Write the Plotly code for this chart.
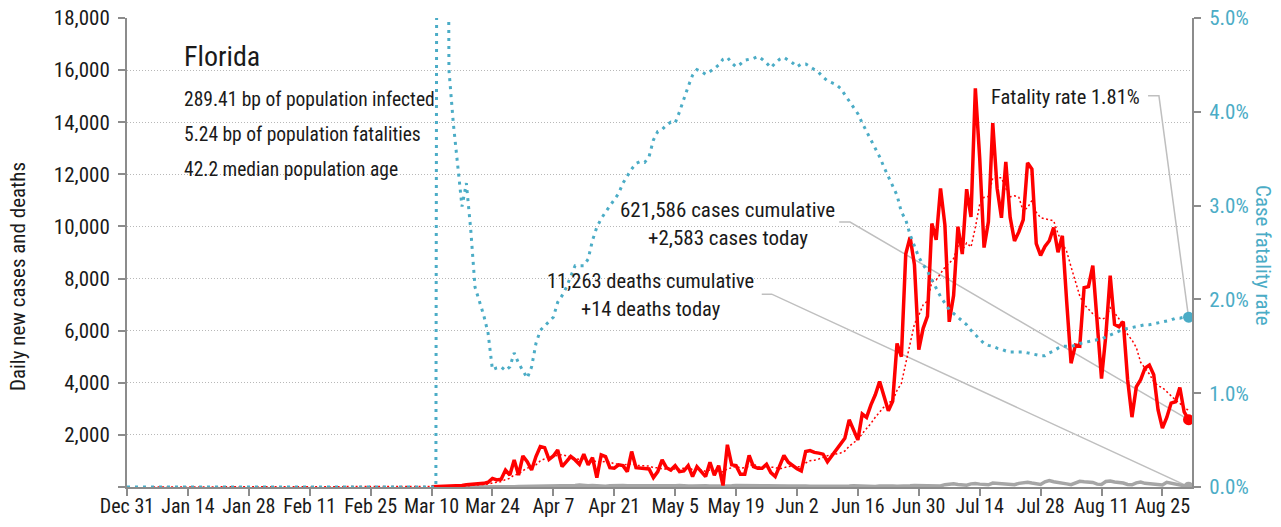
import subprocess
import pandas as pd
import plotly.graph_objects as go

# ---------------- data ----------------
dates = pd.date_range("2019-12-31", "2020-08-31", freq="D")  # 245 days

# daily new cases; nothing drawn before Mar 10 (day index 70)
cases_pre = [None] * 70
cases_mar = [7, 10, 15, 20, 25, 40, 45, 60, 90,            # Mar 10 - Mar 18
             100, 100, 130, 140, 180, 330, 270, 300, 650, 460, 1040, 460, 1190]  # Mar 19 - Mar 31
cases_apr = [970, 650, 1170, 1550, 1510, 1060, 1190, 1420, 780, 970,
             1170, 1040, 870, 1260, 850, 1130, 360, 1230, 1170, 740,
             720, 850, 820, 590, 1360, 740, 720, 720, 690, 360]
cases_may = [590, 1040, 740, 650, 820, 590, 620, 820, 400, 780,
             590, 400, 950, 450, 820, 60, 1620, 850, 820, 490,
             490, 1210, 780, 720, 720, 870, 550, 400, 800, 1210, 950]
cases_jun = [810, 700, 620, 1360, 1400, 1330, 1300, 1260, 970, 1200,
             1420, 1650, 1870, 2580, 2200, 1810, 2800, 2670, 3150, 3540,
             4050, 3500, 2930, 3290, 5510, 5000, 8940, 9590, 8530, 5270]
cases_jul = [6090, 6560, 10110, 9490, 11460, 10060, 6340, 7350, 9990, 8940,
             11430, 10360, 15300, 12620, 9190, 10180, 13970, 11470, 10330, 12480,
             10350, 9440, 9790, 10250, 12440, 12200, 9340, 8890, 9230, 9450, 9960]
cases_aug = [9010, 9640, 7100, 4750, 5450, 5410, 7650, 7690, 8500, 6230,
             4160, 5830, 8110, 6240, 6150, 6350, 4120, 2680, 3840, 4120,
             4560, 4680, 4310, 2960, 2260, 2670, 3220, 3270, 3820, 2880, 2583]
cases = cases_pre + cases_mar + cases_apr + cases_may + cases_jun + cases_jul + cases_aug

# daily deaths; nothing drawn before Mar 11 (day index 71)
deaths_pre = [None] * 71
deaths_mar = [1, 0, 1, 1, 0, 2, 1, 3, 2, 4, 5, 3, 6, 8, 6, 10, 11, 14, 12, 17, 20]
deaths_apr = [25, 30, 28, 40, 22, 35, 48, 52, 40, 38, 30, 58, 72, 50, 45,
              60, 48, 35, 30, 50, 62, 44, 58, 48, 40, 36, 28, 45, 50, 60]
deaths_may = [52, 45, 38, 30, 48, 55, 60, 40, 35, 28, 50, 45, 42, 38, 30, 25,
              20, 46, 55, 48, 40, 36, 28, 22, 45, 48, 40, 36, 30, 25, 40]
deaths_jun = [38, 45, 42, 35, 30, 28, 48, 40, 38, 35, 30, 25, 22, 40, 45,
              38, 44, 30, 25, 20, 42, 48, 46, 43, 30, 25, 20, 45, 55, 50]
deaths_jul = [60, 70, 55, 45, 40, 90, 110, 120, 95, 80, 70, 120, 135, 110, 90, 85,
              150, 140, 130, 125, 100, 90, 140, 170, 180, 150, 120, 100, 200, 250, 200]
deaths_aug = [180, 170, 120, 90, 160, 220, 200, 190, 175, 110, 100, 210, 230, 190, 180, 150,
              95, 85, 160, 190, 140, 120, 105, 80, 75, 180, 150, 120, 100, 40, 14]
deaths = deaths_pre + deaths_mar + deaths_apr + deaths_may + deaths_jun + deaths_jul + deaths_aug

# case fatality rate (%), right axis
cfr_pre = [0.0] * 72                                  # Dec 31 - Mar 11
cfr_mar = [30.0, 30.0, 4.45, 3.88, 3.45, 2.99, 3.24, 2.75, 2.13, 1.99,
           1.83, 1.64, 1.25, 1.27, 1.28, 1.24, 1.28, 1.43, 1.32, 1.24]   # Mar 12 - Mar 31
cfr_apr = [1.16, 1.28, 1.53, 1.67, 1.72, 1.76, 1.81, 1.97, 2.04, 2.13,
           2.24, 2.36, 2.36, 2.36, 2.43, 2.63, 2.77, 2.86, 2.93, 3.00,
           3.06, 3.13, 3.24, 3.32, 3.39, 3.45, 3.47, 3.46, 3.52, 3.70]
cfr_may = [3.79, 3.81, 3.86, 3.89, 3.88, 4.00, 4.14, 4.27, 4.39, 4.45,
           4.43, 4.40, 4.43, 4.46, 4.50, 4.56, 4.58, 4.52, 4.48, 4.51,
           4.55, 4.56, 4.57, 4.59, 4.56, 4.52, 4.47, 4.52, 4.56, 4.58, 4.55]
cfr_jun = [4.52, 4.48, 4.51, 4.51, 4.48, 4.45, 4.42, 4.37, 4.33, 4.31,
           4.29, 4.25, 4.18, 4.11, 4.05, 3.98, 3.88, 3.79, 3.70, 3.61,
           3.52, 3.41, 3.31, 3.22, 3.11, 2.93, 2.85, 2.69, 2.56, 2.45]
cfr_jul = [2.37, 2.30, 2.21, 2.12, 2.03, 1.96, 1.89, 1.85, 1.81, 1.77,
           1.73, 1.67, 1.62, 1.57, 1.53, 1.51, 1.50, 1.48, 1.47, 1.45,
           1.44, 1.44, 1.44, 1.44, 1.43, 1.42, 1.41, 1.40, 1.40, 1.43, 1.45]
cfr_aug = [1.48, 1.50, 1.50, 1.50, 1.51, 1.53, 1.54, 1.55, 1.56, 1.57,
           1.58, 1.60, 1.62, 1.64, 1.66, 1.68, 1.69, 1.70, 1.71, 1.72,
           1.73, 1.73, 1.74, 1.75, 1.76, 1.77, 1.78, 1.80, 1.80, 1.81, 1.81]
cfr = [v / 100 for v in cfr_pre + cfr_mar + cfr_apr + cfr_may + cfr_jun + cfr_jul + cfr_aug]

# left-axis ticks (the reference shows no label at zero)
y_tickvals = [0, 2000, 4000, 6000, 8000, 10000, 12000, 14000, 16000, 18000]
y_ticktext = ["", "2,000", "4,000", "6,000", "8,000", "10,000", "12,000", "14,000", "16,000", "18,000"]

state_name = "Florida"
info_lines = ["289.41 bp of population infected",
              "5.24 bp of population fatalities",
              "42.2 median population age"]
cases_text = ["621,586 cases cumulative", "+2,583 cases today"]
deaths_text = ["11,263 deaths cumulative", "+14 deaths today"]
fatality_text = "Fatality rate 1.81%"

# 7-day trailing average of daily cases
cases_avg = pd.Series(cases, dtype="float").fillna(0).rolling(7).mean()

# ---------------- font choice (first condensed family that is installed) ----------------
try:
    fc = subprocess.run(["fc-list", ":", "family"], capture_output=True, text=True).stdout
    installed = set()
    for line in fc.splitlines():
        for name in line.split(","):
            installed.add(name.strip())
except Exception:
    installed = set()
prefs = ["Roboto Condensed", "Archivo Narrow", "PT Sans Narrow", "Liberation Sans Narrow",
         "Fira Sans Condensed", "IBM Plex Sans Condensed", "Open Sans Condensed"]
chosen = next((p for p in prefs if p in installed), "Roboto")
FONT = f"{chosen}, Roboto, sans-serif"

RED = "#ff0000"
BLUE = "#4bacc6"
GRAY = "#a6a6a6"
LEAD = "#bfbfbf"
AXIS = "#8c8c8c"
TXT = "#1a1a1a"

start = pd.Timestamp("2019-12-31")
def day(d):
    return start + pd.Timedelta(days=d)

fig = go.Figure()

# leader lines (stub + diagonal to the last point of each series)
fig.add_trace(go.Scatter(x=[day(163.7), day(166.2), dates[-1]], y=[10170, 10170, cases[-1]],
                         mode="lines", line=dict(color=LEAD, width=1.5), hoverinfo="skip", showlegend=False))
fig.add_trace(go.Scatter(x=[day(145.9), day(148.2), dates[-1]], y=[7400, 7400, deaths[-1]],
                         mode="lines", line=dict(color=LEAD, width=1.5), hoverinfo="skip", showlegend=False))
fig.add_trace(go.Scatter(x=[day(234.7), day(237.2), dates[-1]], y=[0.0417, 0.0417, cfr[-1]],
                         yaxis="y2", mode="lines", line=dict(color=LEAD, width=1.5),
                         hoverinfo="skip", showlegend=False))

# deaths
fig.add_trace(go.Scatter(x=dates, y=deaths, mode="lines", line=dict(color=GRAY, width=3.5),
                         showlegend=False))
fig.add_trace(go.Scatter(x=[dates[-1]], y=[deaths[-1]], mode="markers",
                         marker=dict(color=GRAY, size=10), showlegend=False))
# cases
fig.add_trace(go.Scatter(x=dates, y=cases, mode="lines", line=dict(color=RED, width=3.5),
                         showlegend=False))
fig.add_trace(go.Scatter(x=dates, y=cases_avg, mode="lines",
                         line=dict(color=RED, width=1.5, dash="2px,2.5px"), showlegend=False))
fig.add_trace(go.Scatter(x=[dates[-1]], y=[cases[-1]], mode="markers",
                         marker=dict(color=RED, size=11), showlegend=False))
# case fatality rate
fig.add_trace(go.Scatter(x=dates, y=cfr, yaxis="y2", mode="lines",
                         line=dict(color=BLUE, width=3, dash="3px,5px"), showlegend=False))
fig.add_trace(go.Scatter(x=[dates[-1]], y=[cfr[-1]], yaxis="y2", mode="markers",
                         marker=dict(color=BLUE, size=11), showlegend=False))

W, H = 1281, 527
L, R, T, B = 127, 89, 18, 40
pw, ph = W - L - R, H - T - B
def px(x):
    return (x - L) / pw
def py(y):
    return (H - B - y) / ph

ann = []
def add_text(text, x, y, size=21, xanchor="left", color=TXT, angle=0):
    ann.append(dict(text=text, x=px(x), y=py(y), xref="paper", yref="paper",
                    xanchor=xanchor, yanchor="middle", showarrow=False, textangle=angle,
                    font=dict(family=FONT, size=size, color=color)))

add_text(state_name, 182, 57, size=28)
for i, t in enumerate(info_lines):
    add_text(t, 182, 99 + i * 35, size=19.5)
add_text(cases_text[0], 727, 210, xanchor="center")
add_text(cases_text[1], 728, 238, xanchor="center")
add_text(deaths_text[0], 650, 281, size=20.5, xanchor="center")
add_text(deaths_text[1], 651, 309, size=20.5, xanchor="center")
add_text(fatality_text, 1142, 97, size=20.5, xanchor="right")
add_text("Daily new cases and deaths", 18, 277, size=21, xanchor="center", angle=-90)
add_text("Case fatality rate", 1263, 255, size=21, xanchor="center", color=BLUE, angle=90)

fig.update_layout(
    width=W, height=H, autosize=False,
    margin=dict(l=L, r=R, t=T, b=B, pad=0, autoexpand=False),
    paper_bgcolor="white", plot_bgcolor="white",
    font=dict(family=FONT, size=20, color=TXT),
    annotations=ann,
    xaxis=dict(
        type="date", automargin=False,
        range=[start, day(244.8)],
        tick0="2019-12-31", dtick=14 * 86400000,
        tickformat="%b %-d",
        showgrid=False, zeroline=False,
        showline=True, linecolor=AXIS, linewidth=2,
        ticks="outside", ticklen=7, tickcolor=AXIS, tickwidth=1.5,
        ticklabelstandoff=-7,
        tickfont=dict(family=FONT, size=20, color=TXT),
    ),
    yaxis=dict(
        automargin=False,
        range=[0, 18000], tickmode="array", tickvals=y_tickvals, ticktext=y_ticktext,
        showgrid=True, gridcolor="#b8b8b8", gridwidth=1, griddash="1px,2px",
        zeroline=False,
        showline=True, linecolor=AXIS, linewidth=2,
        ticks="outside", ticklen=7, tickcolor=AXIS, tickwidth=1.5,
        ticklabelstandoff=4,
        tickfont=dict(family=FONT, size=21, color=TXT),
    ),
    yaxis2=dict(
        overlaying="y", side="right", automargin=False,
        range=[0, 0.05], dtick=0.01, tickformat=".1%",
        showgrid=False, zeroline=False,
        showline=True, linecolor=AXIS, linewidth=2,
        ticks="outside", ticklen=7, tickcolor=AXIS, tickwidth=1.5,
        ticklabelstandoff=4,
        tickfont=dict(family=FONT, size=21, color=BLUE),
    ),
)

fig.write_html("out.html", config={"displayModeBar": False})

# remove the browser's default page margin so the figure sits at the window origin
with open("out.html", encoding="utf-8") as f:
    html = f.read()
html = html.replace("<head>", "<head><style>html,body{margin:0;padding:0;overflow:hidden;}</style>", 1)
with open("out.html", "w", encoding="utf-8") as f:
    f.write(html)
